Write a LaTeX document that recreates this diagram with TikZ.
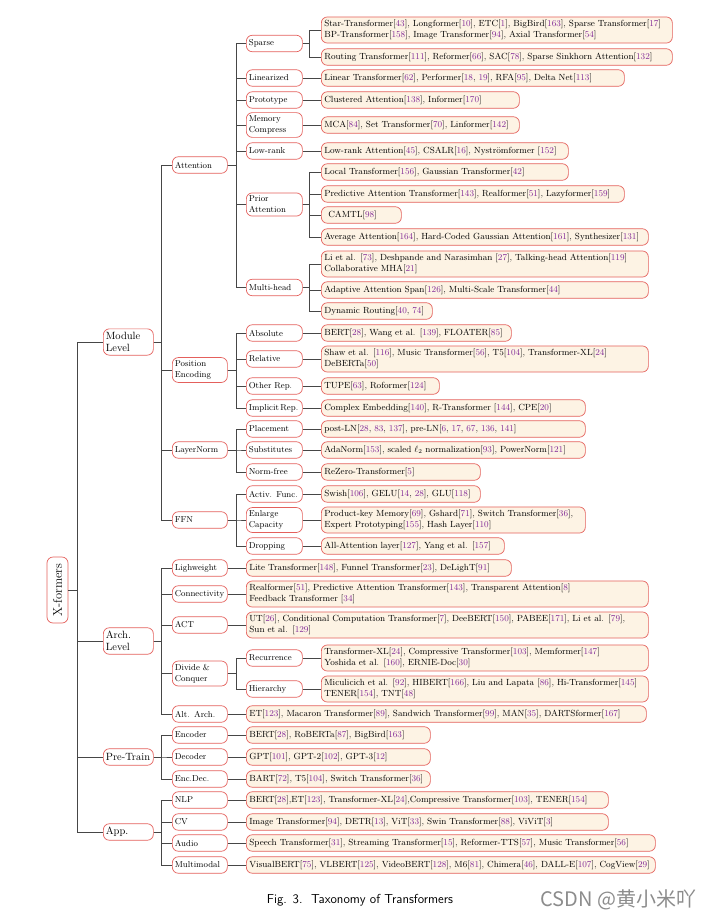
\documentclass[tikz,border=0pt]{standalone}
\usepackage{fontspec}
\newfontfamily\wmfont{Noto Sans CJK SC}

\definecolor{boxred}{RGB}{228,96,92}
\definecolor{leafbg}{RGB}{253,243,228}
\definecolor{citecol}{RGB}{128,40,150}
\definecolor{linegray}{RGB}{70,70,70}
\newcommand{\rf}[1]{\textcolor{citecol}{#1}}

\tikzset{
  box/.style={draw=boxred, line width=0.7pt, rounded corners=6pt, anchor=west, align=left,
    inner xsep=3pt, inner ysep=3.2pt, minimum height=16.5pt, font=\fontsize{8.6}{10.8}\selectfont},
  cat/.style={box, fill=white, inner xsep=2.5pt, text width=#1pt},
  leaf/.style={box, fill=leafbg, text width=#1pt, font=\fontsize{8.9}{10.8}\selectfont},
  conn/.style={draw=linegray, line width=0.7pt},
}

\begin{document}
\begin{tikzpicture}[x=1pt, y=-1pt]
    \useasboundingbox (0,0) rectangle (701,916);

    % root and first level
    \node[draw=boxred, line width=0.7pt, rounded corners=6pt, rotate=90, minimum width=66pt,
      minimum height=21pt, inner sep=1pt, font=\fontsize{12.5}{14}\selectfont] (root) at (57.5,590) {X-formers};
    \node[cat=45, font=\fontsize{10.5}{12.5}\selectfont] (mod) at (103,342) {Module\\Level};
    \node[cat=45, font=\fontsize{10.5}{12.5}\selectfont] (arch) at (103,641) {Arch.\\Level};
    \node[cat=45, font=\fontsize{10.5}{12.5}\selectfont] (pretrain) at (103,757) {Pre-Train};
    \node[cat=45, font=\fontsize{10.5}{12.5}\selectfont] (app) at (103,832) {App.};

    % second level
    \node[cat=50] (attn) at (172,165) {Attention};
    \node[cat=50] (posenc) at (172,370) {Position\\Encoding};
    \node[cat=50] (lnorm) at (172,450) {LayerNorm};
    \node[cat=50] (ffn) at (172,520) {FFN};
    \node[cat=50] (lightw) at (172,568) {Lighweight};
    \node[cat=50] (connect) at (172,594) {Connectivity};
    \node[cat=50] (act) at (172,625) {ACT};
    \node[cat=50] (divide) at (172,673.5) {Divide \&\\Conquer};
    \node[cat=50] (altarch) at (172,714) {Alt. Arch.};
    \node[cat=50] (encoder) at (172,735) {Encoder};
    \node[cat=50] (decoder) at (172,757) {Decoder};
    \node[cat=50] (encdec) at (172,779) {Enc.Dec.};
    \node[cat=50] (nlp) at (172,800) {NLP};
    \node[cat=50] (cv) at (172,822) {CV};
    \node[cat=50] (audio) at (172,843) {Audio};
    \node[cat=50] (multimodal) at (172,865) {Multimodal};

    % third level
    \node[cat=51] (sparse) at (246,43.5) {Sparse};
    \node[cat=51] (linear) at (246,78) {Linearized};
    \node[cat=51] (proto) at (246,100) {Prototype};
    \node[cat=51] (memcomp) at (246,125) {Memory\\Compress};
    \node[cat=51] (lowrank) at (246,151) {Low-rank};
    \node[cat=51] (prior) at (246,204.5) {Prior\\Attention};
    \node[cat=51] (mhead) at (246,287.5) {Multi-head};
    \node[cat=51] (absolute) at (246,333) {Absolute};
    \node[cat=51] (relative) at (246,359) {Relative};
    \node[cat=51] (otherrep) at (246,386) {Other Rep.};
    \node[cat=51] (implicit) at (246,408) {Implicit\,Rep.};
    \node[cat=51] (placement) at (246,429) {Placement};
    \node[cat=51] (substit) at (246,450) {Substitutes};
    \node[cat=51] (normfree) at (246,472) {Norm-free};
    \node[cat=51] (activ) at (246,494) {Activ. Func.};
    \node[cat=51] (enlarge) at (246,520) {Enlarge\\Capacity};
    \node[cat=51] (dropping) at (246,546) {Dropping};
    \node[cat=51] (recur) at (246,658) {Recurrence};
    \node[cat=51] (hier) at (246,689) {Hierarchy};

    % leaves
    \node[leaf=345] (sparseA) at (321,30) {Star-Transformer[\rf{43}], Longformer[\rf{10}], ETC[\rf{1}], BigBird[\rf{163}], Sparse Transformer[\rf{17}]\\BP-Transformer[\rf{158}], Image Transformer[\rf{94}], Axial Transformer[\rf{54}]};
    \node[leaf=345] (sparseB) at (321,57) {Routing Transformer[\rf{111}], Reformer[\rf{66}], SAC[\rf{78}], Sparse Sinkhorn Attention[\rf{132}]};
    \node[leaf=297] (linearL) at (321,78) {Linear Transformer[\rf{62}], Performer[\rf{18}, \rf{19}], RFA[\rf{95}], Delta Net[\rf{113}]};
    \node[leaf=192] (protoL) at (321,100) {Clustered Attention[\rf{138}], Informer[\rf{170}]};
    \node[leaf=192] (memL) at (321,125) {MCA[\rf{84}], Set Transformer[\rf{70}], Linformer[\rf{142}]};
    \node[leaf=241] (lowrankL) at (321,151) {Low-rank Attention[\rf{45}], CSALR[\rf{16}], Nyströmformer [\rf{152}]};
    \node[leaf=241] (priorA) at (321,172) {Local Transformer[\rf{156}], Gaussian Transformer[\rf{42}]};
    \node[leaf=297] (priorB) at (321,194) {Predictive Attention Transformer[\rf{143}], Realformer[\rf{51}], Lazyformer[\rf{159}]};
    \node[leaf=74] (priorC) at (321,215) {\hspace{4pt}CAMTL[\rf{98}]};
    \node[leaf=321] (priorD) at (321,237) {Average Attention[\rf{164}], Hard-Coded Gaussian Attention[\rf{161}], Synthesizer[\rf{131}]};
    \node[leaf=321] (mheadA) at (321,264) {Li et al. [\rf{73}], Deshpande and Narasimhan [\rf{27}], Talking-head Attention[\rf{119}]\\Collaborative MHA[\rf{21}]};
    \node[leaf=321] (mheadB) at (321,290) {Adaptive Attention Span[\rf{126}], Multi-Scale Transformer[\rf{44}]};
    \node[leaf=105] (mheadC) at (321,311) {Dynamic Routing[\rf{40}, \rf{74}]};
    \node[leaf=184] (absL) at (321,333) {BERT[\rf{28}], Wang et al. [\rf{139}], FLOATER[\rf{85}]};
    \node[leaf=321] (relL) at (321,359) {Shaw et al. [\rf{116}], Music Transformer[\rf{56}], T5[\rf{104}], Transformer-XL[\rf{24}]\\DeBERTa[\rf{50}]};
    \node[leaf=112] (otherL) at (321,386) {TUPE[\rf{63}], Roformer[\rf{124}]};
    \node[leaf=258] (implL) at (321,408) {Complex Embedding[\rf{140}], R-Transformer [\rf{144}], CPE[\rf{20}]};
    \node[leaf=258] (placeL) at (321,429) {post-LN[\rf{28}, \rf{83}, \rf{137}], pre-LN[\rf{6}, \rf{17}, \rf{67}, \rf{136}, \rf{141}]};
    \node[leaf=258] (substL) at (321,450) {AdaNorm[\rf{153}], scaled $\ell_2$ normalization[\rf{93}], PowerNorm[\rf{121}]};
    \node[leaf=153] (normfL) at (321,472) {ReZero-Transformer[\rf{5}]};
    \node[leaf=153] (activL) at (321,494) {Swish[\rf{106}], GELU[\rf{14}, \rf{28}], GLU[\rf{118}]};
    \node[leaf=258] (enlL) at (321,520) {Product-key Memory[\rf{69}], Gshard[\rf{71}], Switch Transformer[\rf{36}],\\Expert Prototyping[\rf{155}], Hash Layer[\rf{110}]};
    \node[leaf=177] (dropL) at (321,546) {All-Attention layer[\rf{127}], Yang et al. [\rf{157}]};
    \node[leaf=259] (lightL) at (246,568) {Lite Transformer[\rf{148}], Funnel Transformer[\rf{23}], DeLighT[\rf{91}]};
    \node[leaf=396] (connL) at (246,594) {Realformer[\rf{51}], Predictive Attention Transformer[\rf{143}], Transparent Attention[\rf{8}]\\Feedback Transformer [\rf{34}]};
    \node[leaf=396] (actL) at (246,625) {UT[\rf{26}], Conditional Computation Transformer[\rf{7}], DeeBERT[\rf{150}], PABEE[\rf{171}], Li et al. [\rf{79}],\\Sun et al. [\rf{129}]};
    \node[leaf=321] (recurL) at (321,658) {Transformer-XL[\rf{24}], Compressive Transformer[\rf{103}], Memformer[\rf{147}]\\Yoshida et al. [\rf{160}], ERNIE-Doc[\rf{30}]};
    \node[leaf=321] (hierL) at (321,689) {Miculicich et al. [\rf{92}], HIBERT[\rf{166}], Liu and Lapata [\rf{86}], Hi-Transformer[\rf{145}]\\TENER[\rf{154}], TNT[\rf{48}]};
    \node[leaf=394] (altL) at (246,714) {ET[\rf{123}], Macaron Transformer[\rf{89}], Sandwich Transformer[\rf{99}], MAN[\rf{35}], DARTSformer[\rf{167}]};
    \node[leaf=178] (encL) at (246,735) {BERT[\rf{28}], RoBERTa[\rf{87}], BigBird[\rf{163}]};
    \node[leaf=178] (decL) at (246,757) {GPT[\rf{101}], GPT-2[\rf{102}], GPT-3[\rf{12}]};
    \node[leaf=178] (edL) at (246,779) {BART[\rf{72}], T5[\rf{104}], Switch Transformer[\rf{36}]};
    \node[leaf=356] (nlpL) at (246,800) {BERT[\rf{28}],ET[\rf{123}], Transformer-XL[\rf{24}],Compressive Transformer[\rf{103}], TENER[\rf{154}]};
    \node[leaf=356] (cvL) at (246,822) {Image Transformer[\rf{94}], DETR[\rf{13}], ViT[\rf{33}], Swin Transformer[\rf{88}], ViViT[\rf{3}]};
    \node[leaf=403] (audioL) at (246,843) {Speech Transformer[\rf{31}], Streaming Transformer[\rf{15}], Reformer-TTS[\rf{57}], Music Transformer[\rf{56}]};
    \node[leaf=403] (multiL) at (246,865) {VisualBERT[\rf{75}], VLBERT[\rf{125}], VideoBERT[\rf{128}], M6[\rf{81}], Chimera[\rf{46}], DALL-E[\rf{107}], CogView[\rf{29}]};

    % tree connectors
    \foreach \c in {mod,arch,pretrain,app} \draw[conn] (root.south) -- ++(8.5,0) |- (\c.west);
    \foreach \c in {attn,posenc,lnorm,ffn} \draw[conn] (mod.east) -- ++(8,0) |- (\c.west);
    \foreach \c in {lightw,connect,act,divide,altarch} \draw[conn] (arch.east) -- ++(8,0) |- (\c.west);
    \foreach \c in {encoder,decoder,encdec} \draw[conn] (pretrain.east) -- ++(8,0) |- (\c.west);
    \foreach \c in {nlp,cv,audio,multimodal} \draw[conn] (app.east) -- ++(8,0) |- (\c.west);
    \foreach \c in {sparse,linear,proto,memcomp,lowrank,prior,mhead} \draw[conn] (attn.east) -- ++(9,0) |- (\c.west);
    \foreach \c in {absolute,relative,otherrep,implicit} \draw[conn] (posenc.east) -- ++(9,0) |- (\c.west);
    \foreach \c in {placement,substit,normfree} \draw[conn] (lnorm.east) -- ++(9,0) |- (\c.west);
    \foreach \c in {activ,enlarge,dropping} \draw[conn] (ffn.east) -- ++(9,0) |- (\c.west);
    \foreach \c in {recur,hier} \draw[conn] (divide.east) -- ++(9,0) |- (\c.west);
    \foreach \c in {sparseA,sparseB} \draw[conn] (sparse.east) -- ++(7,0) |- (\c.west);
    \foreach \c in {priorA,priorB,priorC,priorD} \draw[conn] (prior.east) -- ++(7,0) |- (\c.west);
    \foreach \c in {mheadA,mheadB,mheadC} \draw[conn] (mhead.east) -- ++(7,0) |- (\c.west);
    \foreach \p/\c in {linear/linearL,proto/protoL,memcomp/memL,lowrank/lowrankL,absolute/absL,
      relative/relL,otherrep/otherL,implicit/implL,placement/placeL,substit/substL,normfree/normfL,
      activ/activL,enlarge/enlL,dropping/dropL,lightw/lightL,connect/connL,act/actL,recur/recurL,
      hier/hierL,altarch/altL,encoder/encL,decoder/decL,encdec/edL,nlp/nlpL,cv/cvL,audio/audioL,
      multimodal/multiL}
      \draw[conn] (\p.east) -- (\c.west);

    % caption and watermark
    \node[font=\sffamily\fontsize{13}{15}\selectfont] (caption) at (360,900) {Fig. 3.\ \ Taxonomy of Transformers};
    \node[font=\wmfont\fontsize{20}{22}\selectfont, text=black!45, anchor=east] (mark) at (700,900) {CSDN @黄小米吖};
\end{tikzpicture}
\end{document}
